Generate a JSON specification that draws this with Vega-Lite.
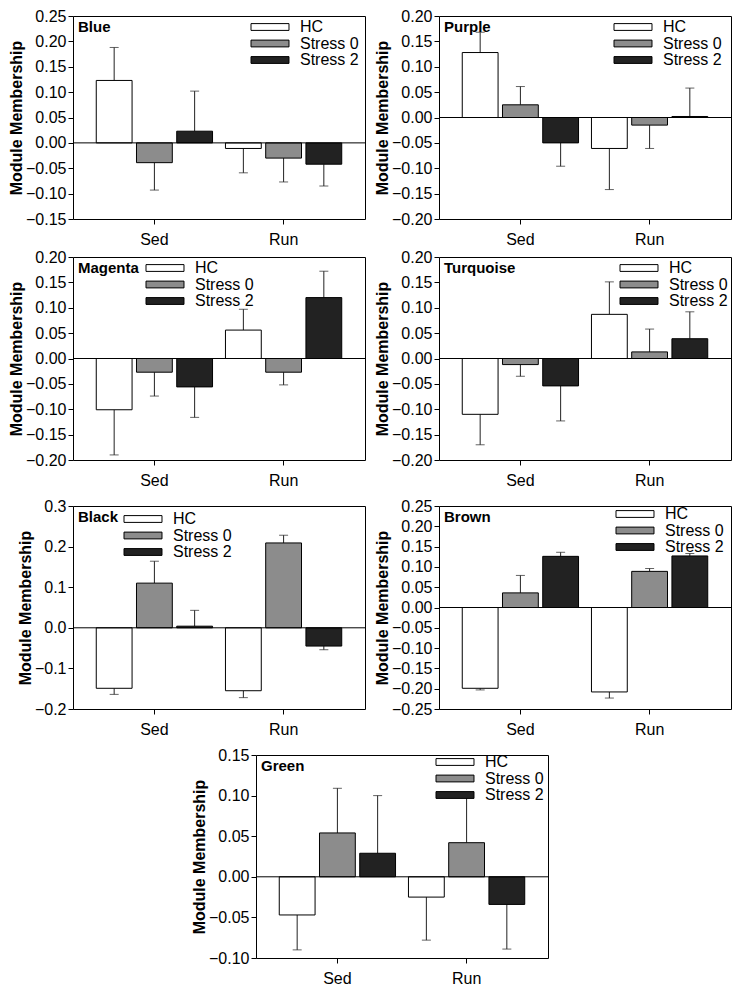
{
  "$schema": "https://vega.github.io/schema/vega-lite/v6.json",
  "padding": {"left": 8, "top": 7, "right": 2, "bottom": 3},
  "background": "white",
  "datasets": {
    "mm": [
      {"panel": "Blue", "group": "Sed", "cond": "HC", "v": 0.123, "e": 0.188},
      {"panel": "Blue", "group": "Sed", "cond": "Stress 0", "v": -0.039, "e": -0.093},
      {"panel": "Blue", "group": "Sed", "cond": "Stress 2", "v": 0.023, "e": 0.102},
      {"panel": "Blue", "group": "Run", "cond": "HC", "v": -0.011, "e": -0.059},
      {"panel": "Blue", "group": "Run", "cond": "Stress 0", "v": -0.030, "e": -0.077},
      {"panel": "Blue", "group": "Run", "cond": "Stress 2", "v": -0.042, "e": -0.085},
      {"panel": "Purple", "group": "Sed", "cond": "HC", "v": 0.128, "e": 0.168},
      {"panel": "Purple", "group": "Sed", "cond": "Stress 0", "v": 0.025, "e": 0.061},
      {"panel": "Purple", "group": "Sed", "cond": "Stress 2", "v": -0.050, "e": -0.096},
      {"panel": "Purple", "group": "Run", "cond": "HC", "v": -0.061, "e": -0.142},
      {"panel": "Purple", "group": "Run", "cond": "Stress 0", "v": -0.015, "e": -0.061},
      {"panel": "Purple", "group": "Run", "cond": "Stress 2", "v": 0.002, "e": 0.058},
      {"panel": "Magenta", "group": "Sed", "cond": "HC", "v": -0.101, "e": -0.190},
      {"panel": "Magenta", "group": "Sed", "cond": "Stress 0", "v": -0.027, "e": -0.074},
      {"panel": "Magenta", "group": "Sed", "cond": "Stress 2", "v": -0.056, "e": -0.116},
      {"panel": "Magenta", "group": "Run", "cond": "HC", "v": 0.056, "e": 0.097},
      {"panel": "Magenta", "group": "Run", "cond": "Stress 0", "v": -0.027, "e": -0.052},
      {"panel": "Magenta", "group": "Run", "cond": "Stress 2", "v": 0.120, "e": 0.172},
      {"panel": "Turquoise", "group": "Sed", "cond": "HC", "v": -0.110, "e": -0.170},
      {"panel": "Turquoise", "group": "Sed", "cond": "Stress 0", "v": -0.012, "e": -0.035},
      {"panel": "Turquoise", "group": "Sed", "cond": "Stress 2", "v": -0.054, "e": -0.123},
      {"panel": "Turquoise", "group": "Run", "cond": "HC", "v": 0.087, "e": 0.151},
      {"panel": "Turquoise", "group": "Run", "cond": "Stress 0", "v": 0.013, "e": 0.058},
      {"panel": "Turquoise", "group": "Run", "cond": "Stress 2", "v": 0.039, "e": 0.092},
      {"panel": "Black", "group": "Sed", "cond": "HC", "v": -0.149, "e": -0.164},
      {"panel": "Black", "group": "Sed", "cond": "Stress 0", "v": 0.110, "e": 0.164},
      {"panel": "Black", "group": "Sed", "cond": "Stress 2", "v": 0.004, "e": 0.043},
      {"panel": "Black", "group": "Run", "cond": "HC", "v": -0.155, "e": -0.172},
      {"panel": "Black", "group": "Run", "cond": "Stress 0", "v": 0.209, "e": 0.228},
      {"panel": "Black", "group": "Run", "cond": "Stress 2", "v": -0.045, "e": -0.054},
      {"panel": "Brown", "group": "Sed", "cond": "HC", "v": -0.199, "e": -0.203},
      {"panel": "Brown", "group": "Sed", "cond": "Stress 0", "v": 0.036, "e": 0.079},
      {"panel": "Brown", "group": "Sed", "cond": "Stress 2", "v": 0.126, "e": 0.136},
      {"panel": "Brown", "group": "Run", "cond": "HC", "v": -0.208, "e": -0.223},
      {"panel": "Brown", "group": "Run", "cond": "Stress 0", "v": 0.089, "e": 0.096},
      {"panel": "Brown", "group": "Run", "cond": "Stress 2", "v": 0.127, "e": 0.133},
      {"panel": "Green", "group": "Sed", "cond": "HC", "v": -0.047, "e": -0.090},
      {"panel": "Green", "group": "Sed", "cond": "Stress 0", "v": 0.054, "e": 0.109},
      {"panel": "Green", "group": "Sed", "cond": "Stress 2", "v": 0.029, "e": 0.100},
      {"panel": "Green", "group": "Run", "cond": "HC", "v": -0.025, "e": -0.078},
      {"panel": "Green", "group": "Run", "cond": "Stress 0", "v": 0.042, "e": 0.102},
      {"panel": "Green", "group": "Run", "cond": "Stress 2", "v": -0.034, "e": -0.089}
    ]
  },
  "config": {
    "font": "Liberation Sans",
    "view": {"stroke": "#000", "strokeWidth": 1},
    "axis": {"labelFont": "Liberation Sans", "labelFontSize": 16, "labelColor": "#000", "titleFont": "Liberation Sans", "titleFontSize": 16, "titleFontWeight": "bold", "titleColor": "#000", "tickColor": "#000", "tickSize": 5, "domain": false, "grid": false, "labelPadding": 2, "titlePadding": 1, "labelOverlap": false},
    "axisX": {"labelAngle": 0, "labelPadding": 7},
    "legend": {"labelFont": "Liberation Sans", "labelFontSize": 16, "labelColor": "#000", "symbolStrokeColor": "#000", "symbolStrokeWidth": 1, "symbolOpacity": 1, "labelOffset": 22, "rowPadding": 0.5, "padding": 0},
    "title": {"font": "Liberation Sans", "fontSize": 15, "fontWeight": "bold", "anchor": "start", "frame": "group", "offset": -27, "baseline": "alphabetic", "dx": 5, "color": "#000"}
  },
  "vconcat": [
    {
      "vconcat": [
        {
          "vconcat": [
            {
              "hconcat": [
                {
                  "width": 292, "height": 203,
                  "title": "Blue",
                  "data": {"name": "mm"},
                  "transform": [{"filter": "datum.panel === 'Blue'"}],
                  "layer": [
                    {"mark": {"type": "rule", "color": "#222", "strokeWidth": 1},
                     "encoding": {
                       "x": {"field": "group", "type": "nominal", "sort": ["Sed", "Run"], "scale": {"paddingInner": 0.1, "paddingOuter": 0.18}, "axis": {"title": null}},
                       "xOffset": {"field": "cond", "type": "nominal", "sort": ["HC", "Stress 0", "Stress 2"], "scale": {"paddingInner": 0.11}},
                       "y": {"field": "v", "type": "quantitative", "scale": {"domain": [-0.15, 0.25], "nice": false, "zero": false}, "axis": {"title": "Module Membership", "values": [-0.15, -0.1, -0.05, 0, 0.05, 0.1, 0.15, 0.2, 0.25], "tickCount": 20, "format": ".2f", "labelOverlap": false}},
                       "y2": {"field": "e"}}},
                    {"mark": {"type": "tick", "color": "#222", "thickness": 1, "size": 9, "orient": "horizontal"},
                     "encoding": {
                       "x": {"field": "group", "type": "nominal", "sort": ["Sed", "Run"]},
                       "xOffset": {"field": "cond", "type": "nominal", "sort": ["HC", "Stress 0", "Stress 2"]},
                       "y": {"field": "e", "type": "quantitative"}}},
                    {"mark": {"type": "bar", "stroke": "#000", "strokeWidth": 1},
                     "encoding": {
                       "x": {"field": "group", "type": "nominal", "sort": ["Sed", "Run"]},
                       "xOffset": {"field": "cond", "type": "nominal", "sort": ["HC", "Stress 0", "Stress 2"]},
                       "y": {"field": "v", "type": "quantitative"},
                       "fill": {"field": "cond", "type": "nominal", "scale": {"domain": ["HC", "Stress 0", "Stress 2"], "range": ["#ffffff", "#8c8c8c", "#222222"]},
                                "legend": {"title": null, "orient": "none", "legendX": 189, "legendY": 3, "symbolType": "M-2.714,-0.486H2.714V0.486H-2.714Z", "symbolSize": 196}}}},
                    {"data": {"values": [{}]}, "mark": {"type": "rule", "color": "#000", "strokeWidth": 1}, "encoding": {"y": {"datum": 0}}}
                  ]
                },
                {
                  "width": 292, "height": 203,
                  "title": "Purple",
                  "data": {"name": "mm"},
                  "transform": [{"filter": "datum.panel === 'Purple'"}],
                  "layer": [
                    {"mark": {"type": "rule", "color": "#222", "strokeWidth": 1},
                     "encoding": {
                       "x": {"field": "group", "type": "nominal", "sort": ["Sed", "Run"], "scale": {"paddingInner": 0.1, "paddingOuter": 0.18}, "axis": {"title": null}},
                       "xOffset": {"field": "cond", "type": "nominal", "sort": ["HC", "Stress 0", "Stress 2"], "scale": {"paddingInner": 0.11}},
                       "y": {"field": "v", "type": "quantitative", "scale": {"domain": [-0.2, 0.2], "nice": false, "zero": false}, "axis": {"title": "Module Membership", "values": [-0.2, -0.15, -0.1, -0.05, 0, 0.05, 0.1, 0.15, 0.2], "tickCount": 20, "format": ".2f", "labelOverlap": false}},
                       "y2": {"field": "e"}}},
                    {"mark": {"type": "tick", "color": "#222", "thickness": 1, "size": 9, "orient": "horizontal"},
                     "encoding": {
                       "x": {"field": "group", "type": "nominal", "sort": ["Sed", "Run"]},
                       "xOffset": {"field": "cond", "type": "nominal", "sort": ["HC", "Stress 0", "Stress 2"]},
                       "y": {"field": "e", "type": "quantitative"}}},
                    {"mark": {"type": "bar", "stroke": "#000", "strokeWidth": 1},
                     "encoding": {
                       "x": {"field": "group", "type": "nominal", "sort": ["Sed", "Run"]},
                       "xOffset": {"field": "cond", "type": "nominal", "sort": ["HC", "Stress 0", "Stress 2"]},
                       "y": {"field": "v", "type": "quantitative"},
                       "fill": {"field": "cond", "type": "nominal", "scale": {"domain": ["HC", "Stress 0", "Stress 2"], "range": ["#ffffff", "#8c8c8c", "#222222"]},
                                "legend": {"title": null, "orient": "none", "legendX": 186, "legendY": 3, "symbolType": "M-2.714,-0.486H2.714V0.486H-2.714Z", "symbolSize": 196}}}},
                    {"data": {"values": [{}]}, "mark": {"type": "rule", "color": "#000", "strokeWidth": 1}, "encoding": {"y": {"datum": 0}}}
                  ]
                }
              ],
              "spacing": 8,
              "resolve": {"scale": {"fill": "independent"}, "legend": {"fill": "independent"}}
            },
            {
              "hconcat": [
                {
                  "width": 292, "height": 203,
                  "title": "Magenta",
                  "data": {"name": "mm"},
                  "transform": [{"filter": "datum.panel === 'Magenta'"}],
                  "layer": [
                    {"mark": {"type": "rule", "color": "#222", "strokeWidth": 1},
                     "encoding": {
                       "x": {"field": "group", "type": "nominal", "sort": ["Sed", "Run"], "scale": {"paddingInner": 0.1, "paddingOuter": 0.18}, "axis": {"title": null}},
                       "xOffset": {"field": "cond", "type": "nominal", "sort": ["HC", "Stress 0", "Stress 2"], "scale": {"paddingInner": 0.11}},
                       "y": {"field": "v", "type": "quantitative", "scale": {"domain": [-0.2, 0.2], "nice": false, "zero": false}, "axis": {"title": "Module Membership", "values": [-0.2, -0.15, -0.1, -0.05, 0, 0.05, 0.1, 0.15, 0.2], "tickCount": 20, "format": ".2f", "labelOverlap": false}},
                       "y2": {"field": "e"}}},
                    {"mark": {"type": "tick", "color": "#222", "thickness": 1, "size": 9, "orient": "horizontal"},
                     "encoding": {
                       "x": {"field": "group", "type": "nominal", "sort": ["Sed", "Run"]},
                       "xOffset": {"field": "cond", "type": "nominal", "sort": ["HC", "Stress 0", "Stress 2"]},
                       "y": {"field": "e", "type": "quantitative"}}},
                    {"mark": {"type": "bar", "stroke": "#000", "strokeWidth": 1},
                     "encoding": {
                       "x": {"field": "group", "type": "nominal", "sort": ["Sed", "Run"]},
                       "xOffset": {"field": "cond", "type": "nominal", "sort": ["HC", "Stress 0", "Stress 2"]},
                       "y": {"field": "v", "type": "quantitative"},
                       "fill": {"field": "cond", "type": "nominal", "scale": {"domain": ["HC", "Stress 0", "Stress 2"], "range": ["#ffffff", "#8c8c8c", "#222222"]},
                                "legend": {"title": null, "orient": "none", "legendX": 84, "legendY": 3, "symbolType": "M-2.714,-0.486H2.714V0.486H-2.714Z", "symbolSize": 196}}}},
                    {"data": {"values": [{}]}, "mark": {"type": "rule", "color": "#000", "strokeWidth": 1}, "encoding": {"y": {"datum": 0}}}
                  ]
                },
                {
                  "width": 292, "height": 203,
                  "title": "Turquoise",
                  "data": {"name": "mm"},
                  "transform": [{"filter": "datum.panel === 'Turquoise'"}],
                  "layer": [
                    {"mark": {"type": "rule", "color": "#222", "strokeWidth": 1},
                     "encoding": {
                       "x": {"field": "group", "type": "nominal", "sort": ["Sed", "Run"], "scale": {"paddingInner": 0.1, "paddingOuter": 0.18}, "axis": {"title": null}},
                       "xOffset": {"field": "cond", "type": "nominal", "sort": ["HC", "Stress 0", "Stress 2"], "scale": {"paddingInner": 0.11}},
                       "y": {"field": "v", "type": "quantitative", "scale": {"domain": [-0.2, 0.2], "nice": false, "zero": false}, "axis": {"title": "Module Membership", "values": [-0.2, -0.15, -0.1, -0.05, 0, 0.05, 0.1, 0.15, 0.2], "tickCount": 20, "format": ".2f", "labelOverlap": false}},
                       "y2": {"field": "e"}}},
                    {"mark": {"type": "tick", "color": "#222", "thickness": 1, "size": 9, "orient": "horizontal"},
                     "encoding": {
                       "x": {"field": "group", "type": "nominal", "sort": ["Sed", "Run"]},
                       "xOffset": {"field": "cond", "type": "nominal", "sort": ["HC", "Stress 0", "Stress 2"]},
                       "y": {"field": "e", "type": "quantitative"}}},
                    {"mark": {"type": "bar", "stroke": "#000", "strokeWidth": 1},
                     "encoding": {
                       "x": {"field": "group", "type": "nominal", "sort": ["Sed", "Run"]},
                       "xOffset": {"field": "cond", "type": "nominal", "sort": ["HC", "Stress 0", "Stress 2"]},
                       "y": {"field": "v", "type": "quantitative"},
                       "fill": {"field": "cond", "type": "nominal", "scale": {"domain": ["HC", "Stress 0", "Stress 2"], "range": ["#ffffff", "#8c8c8c", "#222222"]},
                                "legend": {"title": null, "orient": "none", "legendX": 192, "legendY": 3, "symbolType": "M-2.714,-0.486H2.714V0.486H-2.714Z", "symbolSize": 196}}}},
                    {"data": {"values": [{}]}, "mark": {"type": "rule", "color": "#000", "strokeWidth": 1}, "encoding": {"y": {"datum": 0}}}
                  ]
                }
              ],
              "spacing": 8,
              "resolve": {"scale": {"fill": "independent"}, "legend": {"fill": "independent"}}
            }
          ],
          "spacing": 0,
          "resolve": {"scale": {"fill": "independent"}, "legend": {"fill": "independent"}}
        },
        {
          "hconcat": [
            {
              "width": 292, "height": 203,
              "title": "Black",
              "data": {"name": "mm"},
              "transform": [{"filter": "datum.panel === 'Black'"}],
              "layer": [
                {"mark": {"type": "rule", "color": "#222", "strokeWidth": 1},
                 "encoding": {
                   "x": {"field": "group", "type": "nominal", "sort": ["Sed", "Run"], "scale": {"paddingInner": 0.1, "paddingOuter": 0.18}, "axis": {"title": null}},
                   "xOffset": {"field": "cond", "type": "nominal", "sort": ["HC", "Stress 0", "Stress 2"], "scale": {"paddingInner": 0.11}},
                   "y": {"field": "v", "type": "quantitative", "scale": {"domain": [-0.2, 0.3], "nice": false, "zero": false}, "axis": {"title": "Module Membership", "values": [-0.2, -0.1, 0, 0.1, 0.2, 0.3], "tickCount": 20, "format": ".1f", "labelOverlap": false}},
                   "y2": {"field": "e"}}},
                {"mark": {"type": "tick", "color": "#222", "thickness": 1, "size": 9, "orient": "horizontal"},
                 "encoding": {
                   "x": {"field": "group", "type": "nominal", "sort": ["Sed", "Run"]},
                   "xOffset": {"field": "cond", "type": "nominal", "sort": ["HC", "Stress 0", "Stress 2"]},
                   "y": {"field": "e", "type": "quantitative"}}},
                {"mark": {"type": "bar", "stroke": "#000", "strokeWidth": 1},
                 "encoding": {
                   "x": {"field": "group", "type": "nominal", "sort": ["Sed", "Run"]},
                   "xOffset": {"field": "cond", "type": "nominal", "sort": ["HC", "Stress 0", "Stress 2"]},
                   "y": {"field": "v", "type": "quantitative"},
                   "fill": {"field": "cond", "type": "nominal", "scale": {"domain": ["HC", "Stress 0", "Stress 2"], "range": ["#ffffff", "#8c8c8c", "#222222"]},
                            "legend": {"title": null, "orient": "none", "legendX": 62, "legendY": 5, "symbolType": "M-2.714,-0.486H2.714V0.486H-2.714Z", "symbolSize": 196}}}},
                {"data": {"values": [{}]}, "mark": {"type": "rule", "color": "#000", "strokeWidth": 1}, "encoding": {"y": {"datum": 0}}}
              ]
            },
            {
              "width": 292, "height": 203,
              "title": "Brown",
              "data": {"name": "mm"},
              "transform": [{"filter": "datum.panel === 'Brown'"}],
              "layer": [
                {"mark": {"type": "rule", "color": "#222", "strokeWidth": 1},
                 "encoding": {
                   "x": {"field": "group", "type": "nominal", "sort": ["Sed", "Run"], "scale": {"paddingInner": 0.1, "paddingOuter": 0.18}, "axis": {"title": null}},
                   "xOffset": {"field": "cond", "type": "nominal", "sort": ["HC", "Stress 0", "Stress 2"], "scale": {"paddingInner": 0.11}},
                   "y": {"field": "v", "type": "quantitative", "scale": {"domain": [-0.25, 0.25], "nice": false, "zero": false}, "axis": {"title": "Module Membership", "values": [-0.25, -0.2, -0.15, -0.1, -0.05, 0, 0.05, 0.1, 0.15, 0.2, 0.25], "tickCount": 20, "format": ".2f", "labelOverlap": false}},
                   "y2": {"field": "e"}}},
                {"mark": {"type": "tick", "color": "#222", "thickness": 1, "size": 9, "orient": "horizontal"},
                 "encoding": {
                   "x": {"field": "group", "type": "nominal", "sort": ["Sed", "Run"]},
                   "xOffset": {"field": "cond", "type": "nominal", "sort": ["HC", "Stress 0", "Stress 2"]},
                   "y": {"field": "e", "type": "quantitative"}}},
                {"mark": {"type": "bar", "stroke": "#000", "strokeWidth": 1},
                 "encoding": {
                   "x": {"field": "group", "type": "nominal", "sort": ["Sed", "Run"]},
                   "xOffset": {"field": "cond", "type": "nominal", "sort": ["HC", "Stress 0", "Stress 2"]},
                   "y": {"field": "v", "type": "quantitative"},
                   "fill": {"field": "cond", "type": "nominal", "scale": {"domain": ["HC", "Stress 0", "Stress 2"], "range": ["#ffffff", "#8c8c8c", "#222222"]},
                            "legend": {"title": null, "orient": "none", "legendX": 188, "legendY": 0, "symbolType": "M-2.714,-0.486H2.714V0.486H-2.714Z", "symbolSize": 196}}}},
                {"data": {"values": [{}]}, "mark": {"type": "rule", "color": "#000", "strokeWidth": 1}, "encoding": {"y": {"datum": 0}}}
              ]
            }
          ],
          "spacing": 8,
          "resolve": {"scale": {"fill": "independent"}, "legend": {"fill": "independent"}}
        }
      ],
      "spacing": 8,
      "resolve": {"scale": {"fill": "independent"}, "legend": {"fill": "independent"}}
    },
    {
      "width": 292, "height": 203,
      "title": "Green",
      "data": {"name": "mm"},
      "transform": [{"filter": "datum.panel === 'Green'"}],
      "layer": [
        {"mark": {"type": "rule", "color": "#222", "strokeWidth": 1},
         "encoding": {
           "x": {"field": "group", "type": "nominal", "sort": ["Sed", "Run"], "scale": {"paddingInner": 0.1, "paddingOuter": 0.18}, "axis": {"title": null}},
           "xOffset": {"field": "cond", "type": "nominal", "sort": ["HC", "Stress 0", "Stress 2"], "scale": {"paddingInner": 0.11}},
           "y": {"field": "v", "type": "quantitative", "scale": {"domain": [-0.1, 0.15], "nice": false, "zero": false}, "axis": {"title": "Module Membership", "values": [-0.1, -0.05, 0, 0.05, 0.1, 0.15], "tickCount": 20, "format": ".2f", "labelOverlap": false}},
           "y2": {"field": "e"}}},
        {"mark": {"type": "tick", "color": "#222", "thickness": 1, "size": 9, "orient": "horizontal"},
         "encoding": {
           "x": {"field": "group", "type": "nominal", "sort": ["Sed", "Run"]},
           "xOffset": {"field": "cond", "type": "nominal", "sort": ["HC", "Stress 0", "Stress 2"]},
           "y": {"field": "e", "type": "quantitative"}}},
        {"mark": {"type": "bar", "stroke": "#000", "strokeWidth": 1},
         "encoding": {
           "x": {"field": "group", "type": "nominal", "sort": ["Sed", "Run"]},
           "xOffset": {"field": "cond", "type": "nominal", "sort": ["HC", "Stress 0", "Stress 2"]},
           "y": {"field": "v", "type": "quantitative"},
           "fill": {"field": "cond", "type": "nominal", "scale": {"domain": ["HC", "Stress 0", "Stress 2"], "range": ["#ffffff", "#8c8c8c", "#222222"]},
                    "legend": {"title": null, "orient": "none", "legendX": 191, "legendY": -1, "symbolType": "M-2.714,-0.486H2.714V0.486H-2.714Z", "symbolSize": 196}}}},
        {"data": {"values": [{}]}, "mark": {"type": "rule", "color": "#000", "strokeWidth": 1}, "encoding": {"y": {"datum": 0}}}
      ]
    }
  ],
  "spacing": 8,
  "center": true,
  "resolve": {"scale": {"fill": "independent"}, "legend": {"fill": "independent"}}
}
